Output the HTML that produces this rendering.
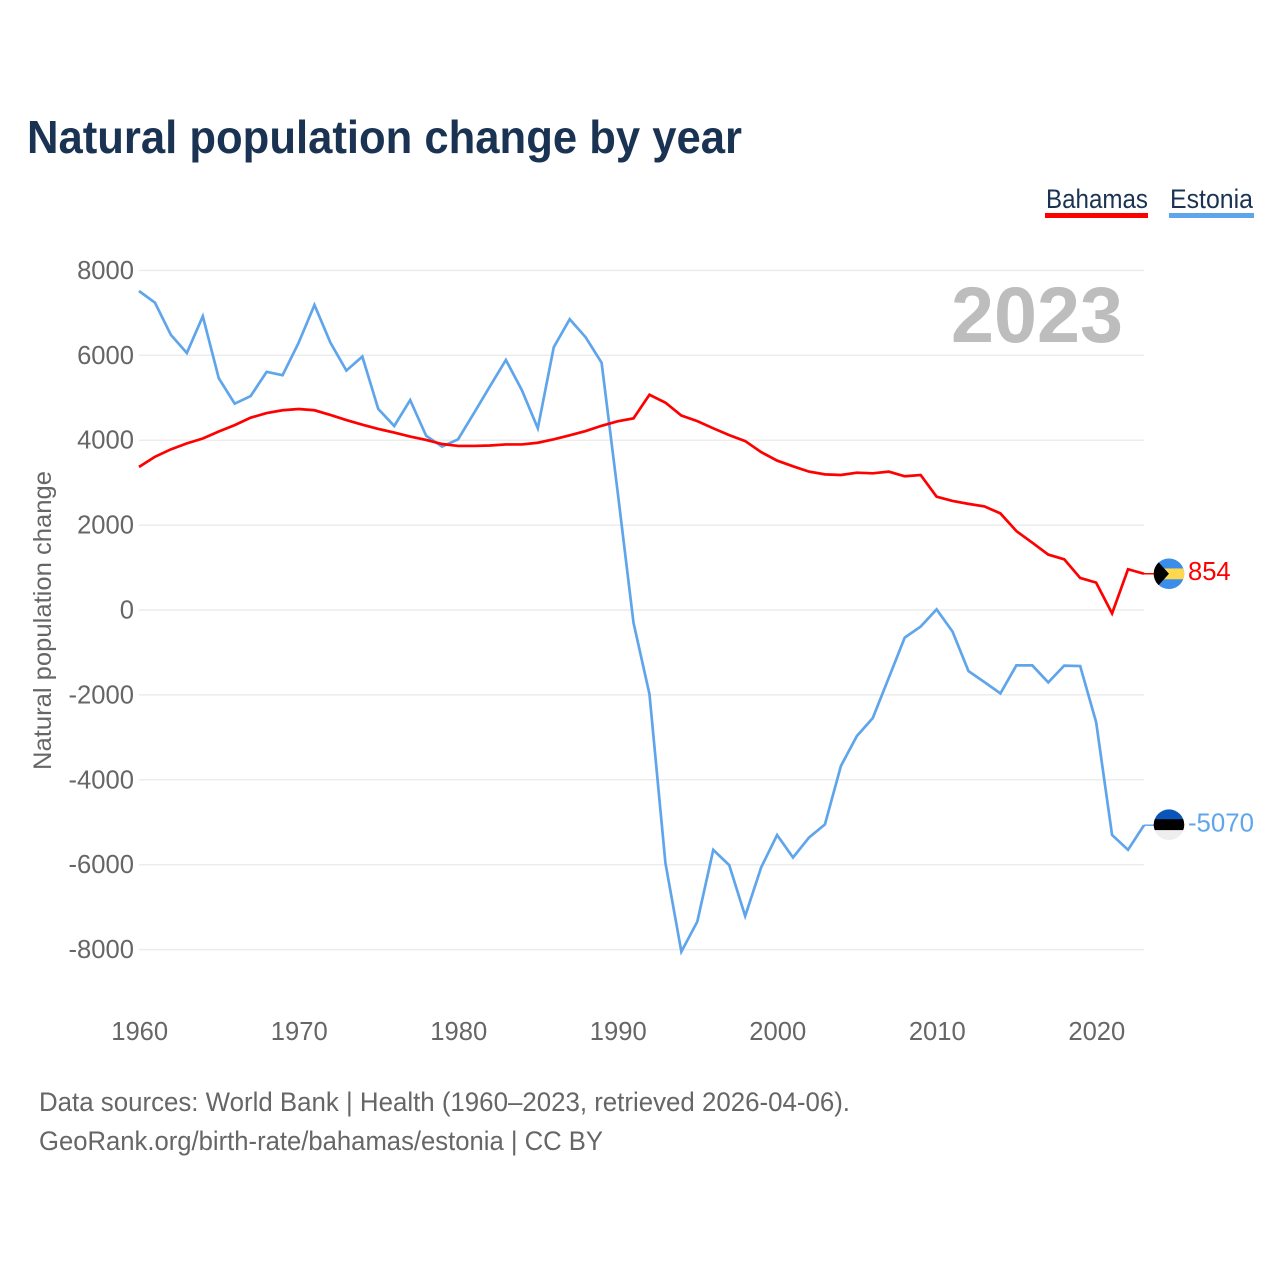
<!DOCTYPE html>
<html lang="en">
<head>
<meta charset="utf-8">
<title>Natural population change by year</title>
<style>
html,body{margin:0;padding:0;background:#fff;width:1280px;height:1280px;overflow:hidden}
svg{display:block;font-family:"Liberation Sans",sans-serif}
</style>
</head>
<body>
<svg id="chart" width="1280" height="1280" viewBox="0 0 1280 1280" xmlns="http://www.w3.org/2000/svg">
  <rect width="1280" height="1280" fill="#fff"/>
  <text x="27" y="153" font-size="46" font-weight="700" fill="#1a3353" textLength="715" lengthAdjust="spacingAndGlyphs">Natural population change by year</text>

  <g style="cursor:pointer">
    <text x="1046" y="208" font-size="27" fill="#1a3353" textLength="102" lengthAdjust="spacingAndGlyphs">Bahamas</text>
    <rect x="1045" y="213" width="103" height="5" fill="#ff0000"/>
  </g>
  <g style="cursor:pointer">
    <text x="1170" y="208" font-size="27" fill="#1a3353" textLength="83" lengthAdjust="spacingAndGlyphs">Estonia</text>
    <rect x="1169" y="213" width="85" height="5" fill="#5fa5ec"/>
  </g>

  <g id="grid"></g>
  <g id="yticks"></g>
  <g id="xticks"></g>

  <text transform="translate(51,770) rotate(-90)" font-size="25" fill="#666" textLength="299" lengthAdjust="spacingAndGlyphs">Natural population change</text>
  <text x="951" y="342" font-size="79" font-weight="700" fill="#bdbdbd" textLength="172" lengthAdjust="spacingAndGlyphs">2023</text>

  <g id="series"></g>
  <g id="endmarks"></g>

  <text x="39" y="1111" font-size="27" fill="#666" textLength="811" lengthAdjust="spacingAndGlyphs">Data sources: World Bank | Health (1960–2023, retrieved 2026-04-06).</text>
  <text x="39" y="1150" font-size="27" fill="#666" textLength="564" lengthAdjust="spacingAndGlyphs">GeoRank.org/birth-rate/bahamas/estonia | CC BY</text>
</svg>

<script>
var startYear = 1960;
var yTickValues = [8000, 6000, 4000, 2000, 0, -2000, -4000, -6000, -8000];
var xTickValues = [1960, 1970, 1980, 1990, 2000, 2010, 2020];
var bahamasValues = [
  3370, 3610, 3785, 3925, 4040, 4205, 4355, 4530, 4640, 4705,
  4735, 4705, 4595, 4475, 4365, 4265, 4180, 4085, 4005, 3910,
  3865, 3865, 3875, 3900, 3900, 3940, 4020, 4115, 4215, 4340,
  4445, 4515, 5070, 4885, 4580, 4450, 4280, 4120, 3980, 3720,
  3520, 3385, 3260, 3195, 3180, 3235, 3220, 3260, 3150, 3180,
  2670, 2570, 2500, 2440, 2275, 1860, 1585, 1305, 1195, 755,
  645, -80, 960, 854
];
var estoniaValues = [
  7515, 7240, 6480, 6055, 6920, 5460, 4860, 5040, 5610, 5530,
  6290, 7185, 6297, 5640, 5970, 4735, 4335, 4945, 4105, 3850,
  4020, 4640, 5270, 5890, 5180, 4280, 6190, 6850, 6425, 5825,
  2800, -300, -1980, -5960, -8050, -7340, -5650, -6010, -7210, -6065,
  -5300, -5830, -5360, -5050, -3675, -2970, -2545, -1600, -650, -390,
  15, -510, -1440, -1700, -1965, -1305, -1305, -1705, -1310, -1320,
  -2640, -5300, -5650, -5070
];

var NS = 'http://www.w3.org/2000/svg';
function xScale(year) { return 139 + (year - 1960) * 15.952; }
function yScale(value) { return 610 - value * 0.04245; }
function make(tag, attrs, parent) {
  var el = document.createElementNS(NS, tag);
  for (var k in attrs) el.setAttribute(k, attrs[k]);
  parent.appendChild(el);
  return el;
}

var gridGroup = document.getElementById('grid');
var yGroup = document.getElementById('yticks');
var xGroup = document.getElementById('xticks');
var seriesGroup = document.getElementById('series');
var endGroup = document.getElementById('endmarks');

yTickValues.forEach(function (v) {
  var line = make('line', {x1: 139, x2: 1144, y1: yScale(v), y2: yScale(v), stroke: '#ececec', 'stroke-width': 1.5}, gridGroup);
  
  
  var label = make('text', {x: 134, y: yScale(v) + 8.5, 'text-anchor': 'end', 'font-size': 25.6, fill: '#666'}, yGroup);
  label.textContent = String(v);
  
  
});

xTickValues.forEach(function (year) {
  var label = make('text', {x: xScale(year) + 0.7, y: 1040, 'text-anchor': 'middle', 'font-size': 25.6, fill: '#666'}, xGroup);
  label.textContent = String(year);
  
  
});

function linePoints(values) {
  return values.map(function (v, i) {
    return xScale(startYear + i).toFixed(2) + ',' + yScale(v).toFixed(2);
  }).join(' ');
}

var estoniaLine = make('polyline', {points: linePoints(estoniaValues), fill: 'none', stroke: '#5fa5ec', 'stroke-width': 2.7}, seriesGroup);



var bahamasLine = make('polyline', {points: linePoints(bahamasValues), fill: 'none', stroke: '#ff0000', 'stroke-width': 2.7}, seriesGroup);



function lastOf(arr) { return arr[arr.length - 1]; }
var lastX = xScale(startYear + bahamasValues.length - 1);

/* Bahamas end marker */
var by = yScale(lastOf(bahamasValues));
var bLeader = make('line', {x1: lastX, x2: lastX + 10, y1: by, y2: by, stroke: '#ff0000', 'stroke-width': 1.5}, endGroup);


var bFlag = make('g', {transform: 'translate(' + (lastX + 25) + ',' + by + ')'}, endGroup);


make('circle', {r: 15.3, fill: '#3a8eea'}, bFlag);
var bClip = make('clipPath', {id: 'bahamas-clip'}, bFlag);
make('circle', {r: 15.3}, bClip);
make('rect', {x: -16, y: -5.3, width: 32, height: 10.8, fill: '#fdd74d', 'clip-path': 'url(#bahamas-clip)'}, bFlag);
make('path', {d: 'M-16,-15.5 L-14,-15.5 L0,0 L-14,15.5 L-16,15.5 Z', fill: '#000', 'clip-path': 'url(#bahamas-clip)'}, bFlag);
var bLabel = make('text', {x: lastX + 44, y: by + 6.5, 'font-size': 25.6, fill: '#ff0000'}, endGroup);
bLabel.textContent = String(lastOf(bahamasValues));



/* Estonia end marker */
var ey = yScale(lastOf(estoniaValues));
var eLeader = make('line', {x1: lastX, x2: lastX + 10, y1: ey, y2: ey, stroke: '#5fa5ec', 'stroke-width': 1.5}, endGroup);


var eFlag = make('g', {transform: 'translate(' + (lastX + 25) + ',' + (ey - 0.5) + ')'}, endGroup);


var eClip = make('clipPath', {id: 'estonia-clip'}, eFlag);
make('circle', {r: 15.3}, eClip);
make('rect', {x: -16, y: -16, width: 32, height: 11, fill: '#0a55b8', 'clip-path': 'url(#estonia-clip)'}, eFlag);
make('rect', {x: -16, y: -5.5, width: 32, height: 11, fill: '#000', 'clip-path': 'url(#estonia-clip)'}, eFlag);
make('rect', {x: -16, y: 5.5, width: 32, height: 11, fill: '#eeeeee', 'clip-path': 'url(#estonia-clip)'}, eFlag);
var eLabel = make('text', {x: lastX + 44, y: ey + 6.5, 'font-size': 25.6, fill: '#5fa5ec', textLength: 66, lengthAdjust: 'spacingAndGlyphs'}, endGroup);
eLabel.textContent = String(lastOf(estoniaValues));


</script>
</body>
</html>
